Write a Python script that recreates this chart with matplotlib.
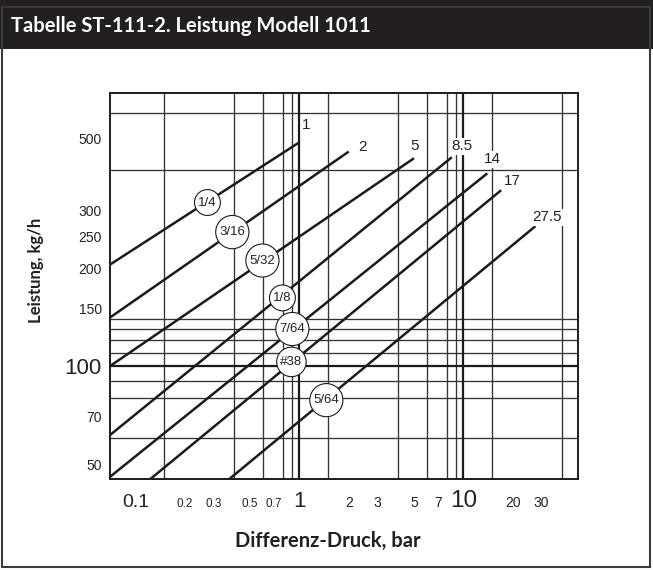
import matplotlib
matplotlib.use('Agg')
import matplotlib.pyplot as plt
from matplotlib.patches import Rectangle
from matplotlib.ticker import FixedLocator, NullFormatter

# Daten: Düsen (Kreis-Beschriftung), Max. Differenzdruck und Leistung an den Linienenden
duesen = ['1/4', '3/16', '5/32', '1/8', '7/64', '#38', '5/64']
dp_start = [0.07, 0.07, 0.07, 0.07, 0.07, 0.1234, 0.374]
leistung_start = [205, 141, 100, 61.4, 45.7, 45, 45]
dp_max = [1, 2, 5, 8.5, 14, 17, 27.5]
leistung_max = [487, 456, 435, 438, 391, 347, 269]
dp_max_text = ['1', '2', '5', '8.5', '14', '17', '27.5']

# Lage der Kreise mit den Düsengrößen
kreis_dp = [0.275, 0.39, 0.595, 0.788, 0.906, 0.894, 1.46]
kreis_leistung = [318, 258, 211, 162, 130, 103, 78.6]

x_ticks = [0.1, 0.2, 0.3, 0.5, 0.7, 1, 2, 3, 5, 7, 10, 20, 30]
x_labels = ['0.1', '0.2', '0.3', '0.5', '0.7', '1', '2', '3', '5', '7', '10', '20', '30']
y_ticks = [50, 70, 100, 150, 200, 250, 300, 500]
y_labels = ['50', '70', '100', '150', '200', '250', '300', '500']

x_grid = [0.1, 0.15, 0.2, 0.3, 0.4, 0.5, 0.6, 0.7, 0.8, 0.9,
          1, 1.5, 2, 3, 4, 5, 6, 7, 8, 9, 10, 15, 20, 30, 40]
y_grid = [50, 60, 70, 80, 90, 100, 110, 120, 130, 140, 150,
          200, 250, 300, 400, 500, 600]

schmal = ['Liberation Sans Narrow', 'Liberation Sans', 'DejaVu Sans']
dunkel = '#1c1a1b'

fig = plt.figure(figsize=(6.53, 5.70), dpi=100)

# Kopfzeile und Rahmen
fig.patches.append(Rectangle((0, 1 - 49/570), 1, 49/570, transform=fig.transFigure,
                             fc='#231f20', ec='none', zorder=0))
fig.patches.append(Rectangle((2/653, 3/570), 648/653, 560/570, transform=fig.transFigure,
                             fill=False, ec='#3a3a3a', lw=1.5, zorder=0))
fig.text(11/653, 1 - 26/570, 'Tabelle ST-111-2. Leistung Modell 1011', color='white',
         fontweight='bold', fontsize=14.5, va='center', family='Lato')

ax = fig.add_axes([110/653, 91/570, 468/653, 386/570])
ax.set_xscale('log')
ax.set_yscale('log')
ax.set_xlim(0.07, 50)
ax.set_ylim(45, 690)

ax.xaxis.set_minor_locator(FixedLocator(x_grid))
ax.yaxis.set_minor_locator(FixedLocator(y_grid))
ax.xaxis.set_minor_formatter(NullFormatter())
ax.yaxis.set_minor_formatter(NullFormatter())
ax.grid(True, which='minor', color='#333333', lw=0.95)
ax.set_axisbelow(True)
for v in [1, 10]:
    ax.axvline(v, color=dunkel, lw=1.6, zorder=1)
ax.axhline(100, color=dunkel, lw=1.6, zorder=1)

for s in ax.spines.values():
    s.set_color(dunkel)
    s.set_linewidth(1.4)

ax.set_xticks(x_ticks, labels=x_labels)
ax.set_yticks(y_ticks, labels=y_labels)
ax.tick_params(which='both', length=0)
ax.tick_params(axis='x', pad=20)
ax.tick_params(axis='y', pad=6)

x_gross = {'0.1': 14, '1': 16, '10': 17.5}
for lab in ax.get_xticklabels():
    t = lab.get_text()
    lab.set_fontsize(x_gross.get(t, 8.5 if t.startswith('0') else 10))
    lab.set_family(schmal)
    lab.set_va('baseline')
    lab.set_color('#222222')
for lab in ax.get_yticklabels():
    lab.set_fontsize(16 if lab.get_text() == '100' else 10)
    lab.set_family(schmal)
    lab.set_color('#222222')

# Kennlinien
for i in range(len(duesen)):
    ax.plot([dp_start[i], dp_max[i]], [leistung_start[i], leistung_max[i]],
            color=dunkel, lw=1.8, solid_capstyle='butt', zorder=3)

# Beschriftung am Linienende (Versatz in Pixel)
versatz = [(7, -17), (14, -5), (1, -12), (10, -11), (5, -14), (11, -9), (12, -9)]
for i in range(len(duesen)):
    dx, dy = versatz[i]
    ax.annotate(dp_max_text[i], xy=(dp_max[i], leistung_max[i]),
                xytext=(dx * 0.72, -dy * 0.72), textcoords='offset points',
                ha='center', va='center', fontsize=11, family=schmal, color='#222222',
                bbox=dict(boxstyle='square,pad=0.1', fc='white', ec='none'), zorder=4)

# Düsengrößen in Kreisen
for i in range(len(duesen)):
    ax.text(kreis_dp[i], kreis_leistung[i], duesen[i], ha='center', va='center',
            fontsize=9.5, family=schmal, color='#222222', zorder=5,
            bbox=dict(boxstyle='circle,pad=0.28', fc='white', ec=dunkel, lw=0.8))

fig.text(328/653, 1 - 541/570, 'Differenz-Druck, bar', ha='center', va='center',
         fontweight='bold', fontsize=14.5, family='Lato', color='#231f20')
fig.text(36/653, 1 - 270/570, 'Leistung, kg/h', ha='center', va='center', rotation=90,
         fontweight='bold', fontsize=12, family='Lato', color='#231f20')

fig.savefig('out.png', dpi=100)
